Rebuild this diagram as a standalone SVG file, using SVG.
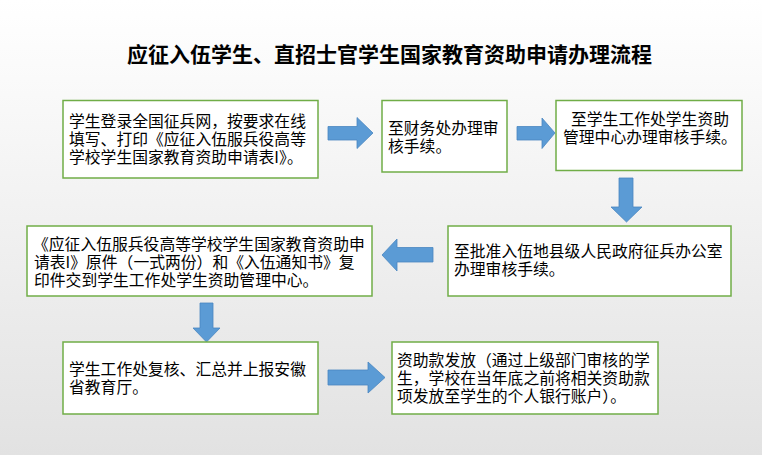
<svg xmlns="http://www.w3.org/2000/svg" width="762" height="455" viewBox="0 0 762 455">
<defs>
<linearGradient id="bg" x1="0" y1="0" x2="0" y2="1">
<stop offset="0" stop-color="#ffffff"/>
<stop offset="1" stop-color="#e2e2e2"/>
</linearGradient>
<style>
.box{fill:#ffffff;stroke:#70ad47;stroke-width:1.5}
.t{font-family:"Microsoft YaHei","Noto Sans CJK SC",sans-serif;font-size:15.8px;fill:#000000}
.title{font-family:"Microsoft YaHei","Noto Sans CJK SC",sans-serif;font-size:21px;font-weight:bold;fill:#000000}
.arr{fill:#5b9bd5;stroke:#4a86c0;stroke-width:0.8}
</style>
</defs>
<rect x="0" y="0" width="762" height="455" fill="url(#bg)"/>
<text class="title" x="127" y="62">应征入伍学生、直招士官学生国家教育资助申请办理流程</text>

<g id="connectors">
<polygon class="arr" points="328,126.5 357,126.5 357,117.5 373,133 357,148.5 357,140 328,140"/>
<polygon class="arr" points="517,126.5 542,126.5 542,118 555,133 542,148.5 542,140 517,140"/>
<polygon class="arr" points="619,178 633,178 633,207 642,207 626.5,222 611,207 619,207"/>
<polygon class="arr" points="433,247.5 397,247.5 397,239 382,255 397,271 397,262 433,262"/>
<polygon class="arr" points="200,303 213,303 213,328 220,328 206.5,342 193,328 200,328"/>
<polygon class="arr" points="328,370 368,370 368,362 385,377.5 368,393 368,385 328,385"/>
</g>

<g id="node1">
<rect class="box" x="63" y="100.5" width="255" height="77.5"/>
<text class="t" x="69" y="126.5">学生登录全国征兵网，按要求在线</text>
<text class="t" x="69" y="144.5">填写、打印《应征入伍服兵役高等</text>
<text class="t" x="69" y="162.5">学校学生国家教育资助申请表I》。</text>
</g>

<g id="node2">
<rect class="box" x="382" y="100.5" width="125" height="71.5"/>
<text class="t" x="388" y="134">至财务处办理审</text>
<text class="t" x="388" y="152">核手续。</text>
</g>

<g id="node3">
<rect class="box" x="556" y="100.5" width="186" height="70"/>
<text class="t" x="571" y="125">至学生工作处学生资助</text>
<text class="t" x="563" y="143">管理中心办理审核手续。</text>
</g>

<g id="node4">
<rect class="box" x="448" y="226" width="283" height="70"/>
<text class="t" x="454" y="257">至批准入伍地县级人民政府征兵办公室</text>
<text class="t" x="454" y="275">办理审核手续。</text>
</g>

<g id="node5">
<rect class="box" x="27" y="226" width="345" height="70"/>
<text class="t" x="33" y="250">《应征入伍服兵役高等学校学生国家教育资助申</text>
<text class="t" x="34" y="268">请表I》原件（一式两份）和《入伍通知书》复</text>
<text class="t" x="34" y="286">印件交到学生工作处学生资助管理中心。</text>
</g>

<g id="node6">
<rect class="box" x="63" y="342" width="255" height="72"/>
<text class="t" x="69" y="375">学生工作处复核、汇总并上报安徽</text>
<text class="t" x="69" y="393">省教育厅。</text>
</g>

<g id="node7">
<rect class="box" x="392" y="342" width="266" height="72"/>
<text class="t" x="397" y="366">资助款发放（通过上级部门审核的学</text>
<text class="t" x="397" y="384">生，学校在当年底之前将相关资助款</text>
<text class="t" x="397" y="402">项发放至学生的个人银行账户）。</text>
</g>
</svg>
